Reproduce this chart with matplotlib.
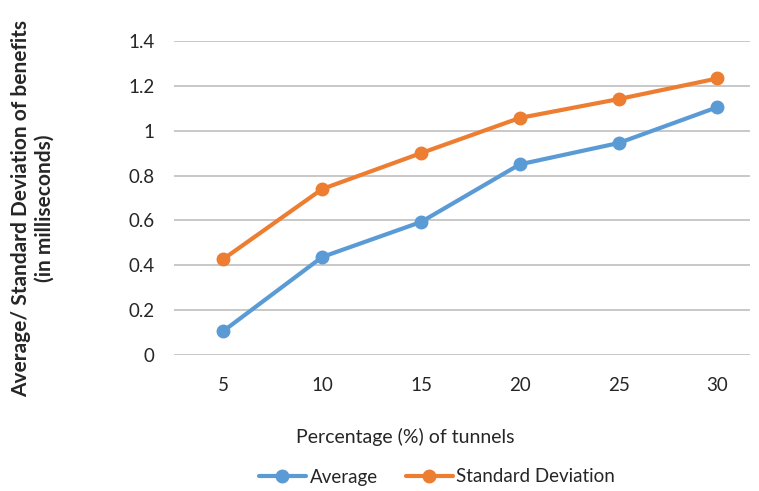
import matplotlib
matplotlib.use("Agg")
import matplotlib.pyplot as plt

# tunnel percentages and the measured benefit statistics (ms)
percentages = ["5", "10", "15", "20", "25", "30"]
average = [0.107, 0.437, 0.593, 0.85, 0.945, 1.105]
std_dev = [0.428, 0.74, 0.90, 1.057, 1.141, 1.233]

plt.rcParams["font.family"] = ["Lato", "DejaVu Sans"]

fig = plt.figure(figsize=(7.59, 4.91), dpi=100)
ax = fig.add_axes([174 / 759, 1 - 355 / 491, (750 - 174) / 759, (355 - 41) / 491])

x = list(range(len(percentages)))
ax.plot(x, average, color="#5B9BD5", lw=3.0, marker="o", ms=9, label="Average",
        solid_capstyle="round", zorder=3)
ax.plot(x, std_dev, color="#ED7D31", lw=3.0, marker="o", ms=9, label="Standard Deviation",
        solid_capstyle="round", zorder=3)

ax.set_xlim(-0.5, 5.33)
ax.set_ylim(0, 1.4)
ax.set_yticks([0, 0.2, 0.4, 0.6, 0.8, 1.0, 1.2, 1.4])
ax.set_yticklabels(["0", "0.2", "0.4", "0.6", "0.8", "1", "1.2", "1.4"])
ax.set_xticks(x)
ax.set_xticklabels(percentages)
ax.grid(axis="y", color="#BFBFBF", lw=1.2)
ax.set_axisbelow(True)
for s in ax.spines.values():
    s.set_visible(False)
ax.tick_params(length=0, labelsize=13.5, colors="#262626", pad=16)
ax.tick_params(axis="y", pad=14)

fig.text(405 / 759, 1 - 437 / 491, "Percentage (%) of tunnels", ha="center", va="center",
         fontsize=14, color="#262626")
fig.text(33 / 759, 1 - 208 / 491, "Average/ Standard Deviation of benefits\n(in milliseconds)",
         rotation=90, ha="center", va="center", fontsize=15, fontweight="bold",
         color="#262626", linespacing=1.2)

fig.legend(loc="center", bbox_to_anchor=(437 / 759, 1 - 477 / 491), ncol=2, frameon=False,
           fontsize=13.5, handlelength=2.5, columnspacing=1.5, handletextpad=0.2,
           labelcolor="#262626")

fig.savefig("out.png", dpi=100)
